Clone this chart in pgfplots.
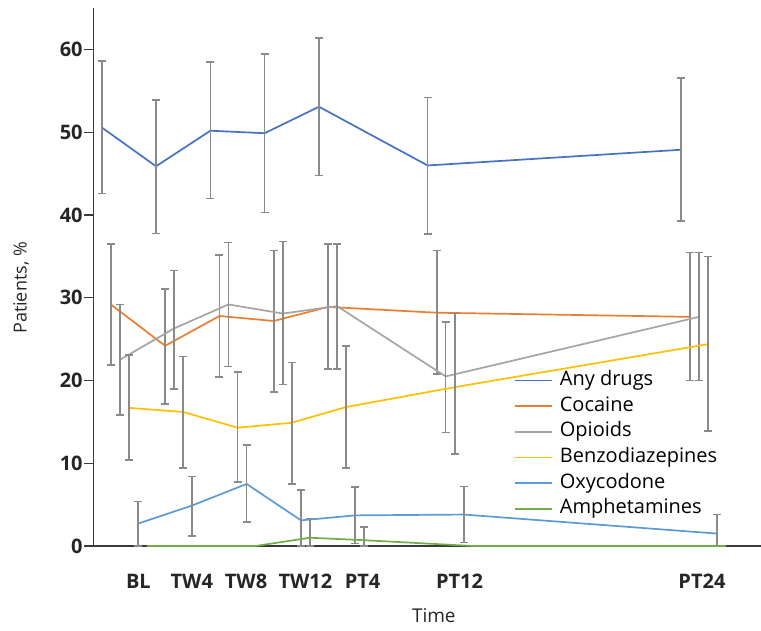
\documentclass[border=0pt]{standalone}
\usepackage{pgfplots}
\pgfplotsset{compat=1.18}
\usepackage{pgfplotstable}
\usepackage{fontspec}
\setmainfont{Open Sans}

\definecolor{cAny}{HTML}{4472C4}
\definecolor{cCoc}{HTML}{ED7D31}
\definecolor{cOpi}{HTML}{A5A5A5}
\definecolor{cBen}{HTML}{FFC000}
\definecolor{cOxy}{HTML}{5B9BD5}
\definecolor{cAmp}{HTML}{70AD47}
\definecolor{errgray}{HTML}{8A8A8A}
\definecolor{axisgray}{HTML}{3A3A3A}

% x = weeks (BL=0 ... PT24), each series shifted a little to the right
\pgfplotstableread{
x     y    ep   em
0     50.6 8.0  8.0
4     45.9 8.0  8.1
8     50.2 8.3  8.2
12    49.9 9.6  9.6
16    53.1 8.3  8.3
24    46.0 8.2  8.3
42.66 47.9 8.7  8.6
}\anydrugs
\pgfplotstableread{
x     y    ep   em
0.67  29.2 7.3  7.3
4.67  24.2 6.9  7.0
8.67  27.8 7.4  7.4
12.67 27.2 8.5  8.6
16.67 28.9 7.6  7.5
24.67 28.2 7.5  7.4
43.33 27.7 7.8  7.7
}\cocaine
\pgfplotstableread{
x     y    ep   em
1.33  22.5 6.7  6.7
5.33  26.3 7.0  7.3
9.33  29.2 7.5  7.5
13.33 28.1 8.7  8.6
17.33 29.0 7.5  7.6
25.33 20.5 6.6  6.8
43.99 27.7 7.8  7.7
}\opioids
\pgfplotstableread{
x     y    ep   em
2     16.7 6.4  6.3
6     16.2 6.7  6.8
10    14.3 6.7  6.6
14    14.9 7.3  7.4
18    16.8 7.4  7.4
26    19.2 8.9  8.1
44.66 24.4 10.6 10.5
}\benzo
\pgfplotstableread{
x     y    ep   em
2.67  2.7  2.7  2.7
6.67  4.9  3.5  3.7
10.67 7.5  4.7  4.6
14.67 3.1  3.7  3.1
18.67 3.7  3.4  3.4
26.67 3.8  3.4  3.4
45.33 1.5  2.3  1.5
}\oxy
\pgfplotstableread{
x     y
3.33  0
7.33  0
11.33 0
15.33 1.0
19.33 0.7
27.33 0
45.99 0
}\amph
\pgfplotstableread{
x     y    ep   em
15.33 1.0  2.3  1.0
19.33 0.7  1.6  0.7
}\amphbars

\begin{document}
\begin{tikzpicture}
\path[use as bounding box] (0,0) rectangle (761pt,631pt);
\begin{axis}[
  at={(93.3pt,85pt)}, anchor=south west,
  scale only axis, width=667.7pt, height=537.7pt,
  xmin=-0.62, xmax=48.55, ymin=0, ymax=65,
  clip=false,
  axis x line=bottom, axis y line=left,
  axis line style={-, line width=1.6pt, color=axisgray},
  ytick={0,10,...,60},
  tick align=outside, major tick length=9pt,
  ytick style={line width=1.3pt, color=axisgray},
  xtick={2.70,6.63,10.63,15.0,19.21,26.35,44.2},
  xticklabels={BL,TW4,TW8,TW12,PT4,PT12,PT24},
  xtick style={draw=none},
  /pgf/number format/assume math mode=true,
  yticklabel style={font=\fontsize{20}{24}\selectfont\bfseries, text=black!85, inner sep=1.5pt},
  xticklabel style={font=\fontsize{20}{24}\selectfont\bfseries, text=black!85, anchor=base, yshift=-34pt},
  xlabel={Time},
  xlabel style={at={(axis description cs:0.510,-0.1426)}, anchor=base, font=\fontsize{19}{23}\selectfont, text=black!85},
  ylabel={Patients, \%},
  ylabel style={at={(axis description cs:-0.100,0.48)}, anchor=base, font=\fontsize{18}{22}\selectfont, text=black!85},
  legend style={at={(axis description cs:0.630,0.327)}, anchor=north west,
    draw=none, fill=none, inner sep=0pt, column sep=6pt, row sep=5.7pt,
    font=\fontsize{20}{24}\selectfont,
    nodes={inner sep=1pt, text height=14pt, text depth=4pt}},
  legend cell align=left,
  legend image code/.code={\draw[#1] (0pt,0pt) -- (37pt,0pt);},
  every axis plot/.append style={line width=1.7pt},
  error bars/y dir=both, error bars/y explicit,
  error bars/error mark=-,
  error bars/error bar style={draw=errgray, line width=1.6pt},
  error bars/error mark options={draw=errgray, rotate=90, mark size=4pt, line width=1.6pt},
]
\addlegendimage{draw=cAny, line width=1.7pt}\addlegendentry{Any drugs}
\addlegendimage{draw=cCoc, line width=1.7pt}\addlegendentry{Cocaine}
\addlegendimage{draw=cOpi, line width=1.7pt}\addlegendentry{Opioids}
\addlegendimage{draw=cBen, line width=1.7pt}\addlegendentry{Benzodiazepines}
\addlegendimage{draw=cOxy, line width=1.7pt}\addlegendentry{Oxycodone}
\addlegendimage{draw=cAmp, line width=1.7pt}\addlegendentry{Amphetamines}
\addplot[cAny, forget plot] table[x=x, y=y, y error plus=ep, y error minus=em] {\anydrugs};
\addplot[cCoc, forget plot] table[x=x, y=y, y error plus=ep, y error minus=em] {\cocaine};
\addplot[cOpi, forget plot] table[x=x, y=y, y error plus=ep, y error minus=em] {\opioids};
\addplot[cBen, forget plot] table[x=x, y=y, y error plus=ep, y error minus=em] {\benzo};
\addplot[cOxy, forget plot] table[x=x, y=y, y error plus=ep, y error minus=em] {\oxy};
\addplot[draw=none, forget plot] table[x=x, y=y, y error plus=ep, y error minus=em] {\amphbars};
\addplot[cAmp, forget plot, error bars/y dir=none] table[x=x, y=y] {\amph};
\end{axis}
\end{tikzpicture}
\end{document}
